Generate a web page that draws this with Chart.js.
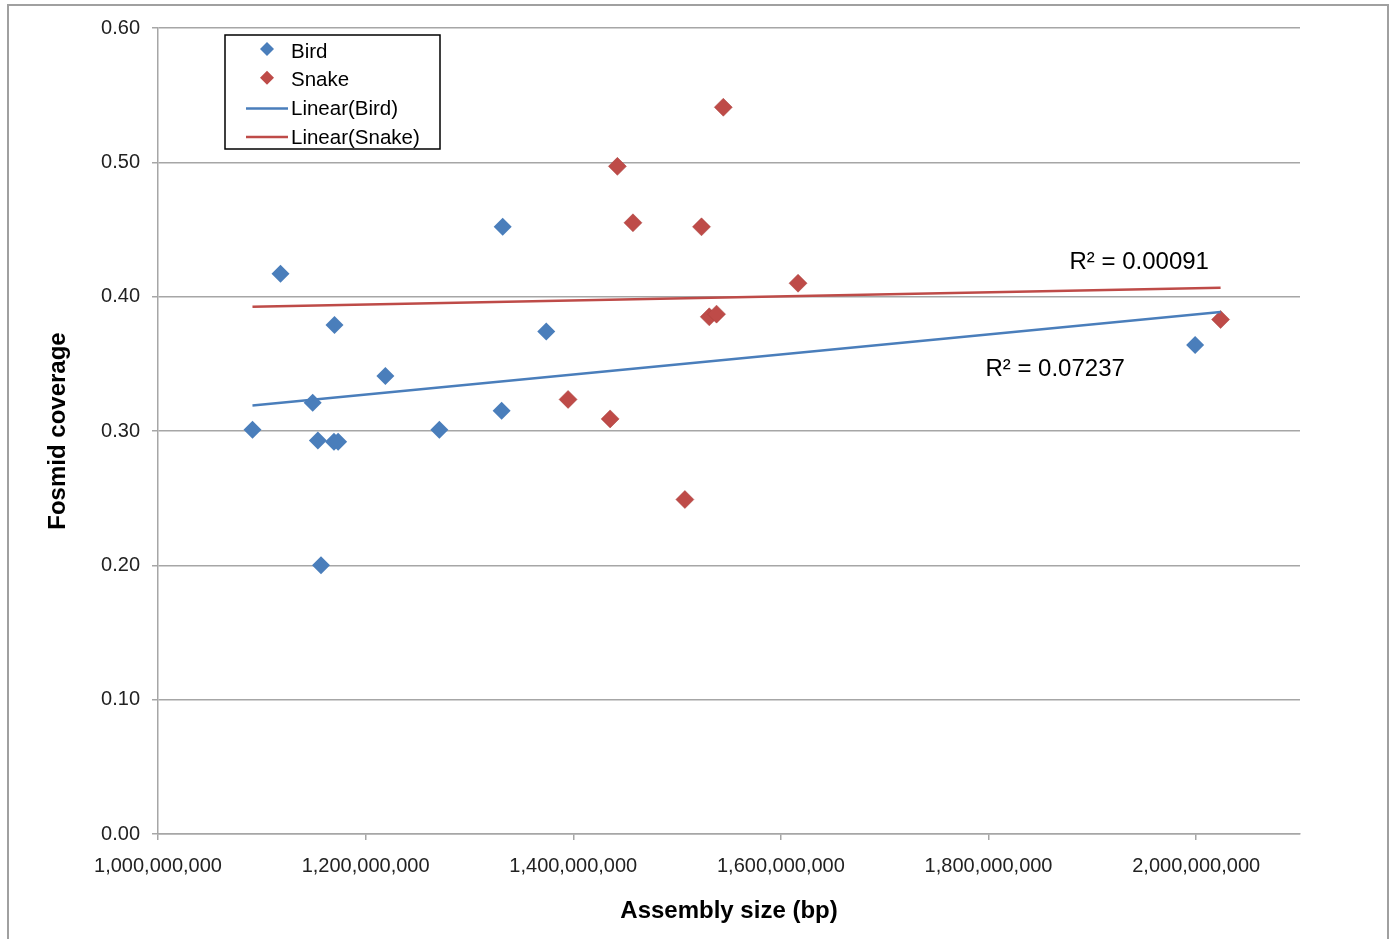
<!DOCTYPE html>
<html>
<head>
<meta charset="utf-8">
<script src="https://cdn.jsdelivr.net/npm/chart.js@4/dist/chart.umd.min.js"></script>
<style>
  body { margin: 0; background: #fff; }
  canvas { display: block; }
</style>
</head>
<body>
<canvas id="chart" width="1395" height="939"></canvas>
<script>
// values
const birdX = [1.091e9, 1.118e9, 1.149e9, 1.154e9, 1.157e9, 1.170e9, 1.1695e9, 1.1735e9, 1.219e9, 1.271e9, 1.331e9, 1.332e9, 1.374e9, 1.999e9];
const birdY = [0.301, 0.417, 0.321, 0.293, 0.200, 0.379, 0.292, 0.292, 0.341, 0.301, 0.315, 0.452, 0.374, 0.364];

const snakeX = [1.395e9, 1.4355e9, 1.4425e9, 1.4575e9, 1.5075e9, 1.5235e9, 1.531e9, 1.538e9, 1.5445e9, 1.6165e9, 2.0235e9];
const snakeY = [0.3235, 0.309, 0.497, 0.455, 0.249, 0.452, 0.385, 0.387, 0.541, 0.410, 0.383];

// trendline ends
const trendX = [1.091e9, 2.0235e9];
const birdTrendY = [0.319, 0.3886];
const snakeTrendY = [0.3925, 0.4067];

const r2Labels = ['R² = 0.00091', 'R² = 0.07237'];
const xTicks = [1.0e9, 1.2e9, 1.4e9, 1.6e9, 1.8e9, 2.0e9];

const BLUE = '#4a7ebb';
const RED = '#be4b48';
const GRID = '#a6a6a6';

function pts(xs, ys) {
    return xs.map((x, i) => ({ x: x, y: ys[i] }));
}

function diamond(ctx, x, y, r, color) {
    ctx.beginPath();
    ctx.moveTo(x, y - r);
    ctx.lineTo(x + r, y);
    ctx.lineTo(x, y + r);
    ctx.lineTo(x - r, y);
    ctx.closePath();
    ctx.fillStyle = color;
    ctx.fill();
}

const extras = {
    id: 'extras',
    beforeDraw(chart) {
        const ctx = chart.ctx;
        ctx.save();
        ctx.fillStyle = '#fff';
        ctx.fillRect(0, 0, chart.width, chart.height);
        ctx.strokeStyle = '#a0a0a0';
        ctx.lineWidth = 2;
        ctx.strokeRect(8, 5, 1380, 980);
        ctx.restore();
    },
    afterDraw(chart) {
        const ctx = chart.ctx;
        const xs = chart.scales.x, ys = chart.scales.y;
        ctx.save();
        // R² labels
        ctx.font = '24px "Liberation Sans", Arial, sans-serif';
        ctx.fillStyle = '#000';
        ctx.textBaseline = 'middle';
        ctx.textAlign = 'left';
        ctx.fillText(r2Labels[0], xs.getPixelForValue(1.878e9), ys.getPixelForValue(0.4258));
        ctx.fillText(r2Labels[1], xs.getPixelForValue(1.797e9), ys.getPixelForValue(0.3462));

        // legend box
        ctx.fillStyle = '#fff';
        ctx.fillRect(225, 35, 215, 114);
        ctx.strokeStyle = '#000';
        ctx.lineWidth = 1.5;
        ctx.strokeRect(225, 35, 215, 114);
        const items = [
            { t: 'Bird', c: BLUE, line: false },
            { t: 'Snake', c: RED, line: false },
            { t: 'Linear(Bird)', c: BLUE, line: true },
            { t: 'Linear(Snake)', c: RED, line: true }
        ];
        ctx.font = '20.5px "Liberation Sans", Arial, sans-serif';
        items.forEach((it, i) => {
            const y = 51 + i * 28.7;
            if (it.line) {
                ctx.strokeStyle = it.c;
                ctx.lineWidth = 2.5;
                ctx.beginPath();
                ctx.moveTo(246, y);
                ctx.lineTo(288, y);
                ctx.stroke();
            } else {
                diamond(ctx, 267, y - 2, 7, it.c);
            }
            ctx.fillStyle = '#000';
            ctx.fillText(it.t, 291, y + 1);
        });
        ctx.restore();
    }
};

new Chart(document.getElementById('chart'), {
    type: 'scatter',
    data: {
        datasets: [
            {
                label: 'Linear(Bird)',
                data: pts(trendX, birdTrendY),
                showLine: true,
                borderColor: BLUE,
                borderWidth: 2.5,
                pointRadius: 0,
                order: 0
            },
            {
                label: 'Linear(Snake)',
                data: pts(trendX, snakeTrendY),
                showLine: true,
                borderColor: RED,
                borderWidth: 2.5,
                pointRadius: 0,
                order: 0
            },
            {
                label: 'Bird',
                data: pts(birdX, birdY),
                pointStyle: 'rectRot',
                pointRadius: 9,
                backgroundColor: BLUE,
                borderColor: BLUE,
                borderWidth: 0,
                order: 1
            },
            {
                label: 'Snake',
                data: pts(snakeX, snakeY),
                pointStyle: 'rectRot',
                pointRadius: 9,
                backgroundColor: RED,
                borderColor: '#a8403d',
                borderWidth: 0.5,
                order: 1
            }
        ]
    },
    options: {
        responsive: false,
        animation: false,
        layout: { padding: { top: 28, right: 95, left: 0, bottom: 0 } },
        plugins: {
            legend: { display: false },
            tooltip: { enabled: false }
        },
        scales: {
            x: {
                type: 'linear',
                min: 1.0e9,
                max: 2.1e9,
                afterFit(scale) { scale.height = 105; },
                afterBuildTicks(scale) { scale.ticks = xTicks.map(v => ({ value: v })); },
                grid: { drawOnChartArea: false, drawTicks: true, tickLength: 6, color: GRID, lineWidth: 1.5 },
                border: { color: GRID, width: 1.5 },
                ticks: {
                    padding: 14,
                    color: '#222',
                    font: { family: '"Liberation Sans", Arial, sans-serif', size: 20 },
                    callback: v => Number(v).toLocaleString('en-US'),
                    maxRotation: 0
                },
                title: {
                    display: true,
                    text: 'Assembly size (bp)',
                    color: '#000',
                    font: { family: '"Liberation Sans", Arial, sans-serif', size: 24, weight: 'bold' },
                    padding: { top: 0, bottom: 13 }
                }
            },
            y: {
                type: 'linear',
                min: 0,
                max: 0.6,
                afterFit(scale) { scale.width = 158; },
                grid: { color: GRID, lineWidth: 1.5, tickLength: 6 },
                border: { color: GRID, width: 1.5 },
                ticks: {
                    stepSize: 0.1,
                    padding: 12,
                    color: '#222',
                    font: { family: '"Liberation Sans", Arial, sans-serif', size: 20 },
                    callback: v => Number(v).toFixed(2)
                },
                title: {
                    display: true,
                    text: 'Fosmid coverage',
                    color: '#000',
                    font: { family: '"Liberation Sans", Arial, sans-serif', size: 24, weight: 'bold' },
                    padding: { top: 44, bottom: 0 }
                }
            }
        }
    },
    plugins: [extras]
});
</script>
</body>
</html>
